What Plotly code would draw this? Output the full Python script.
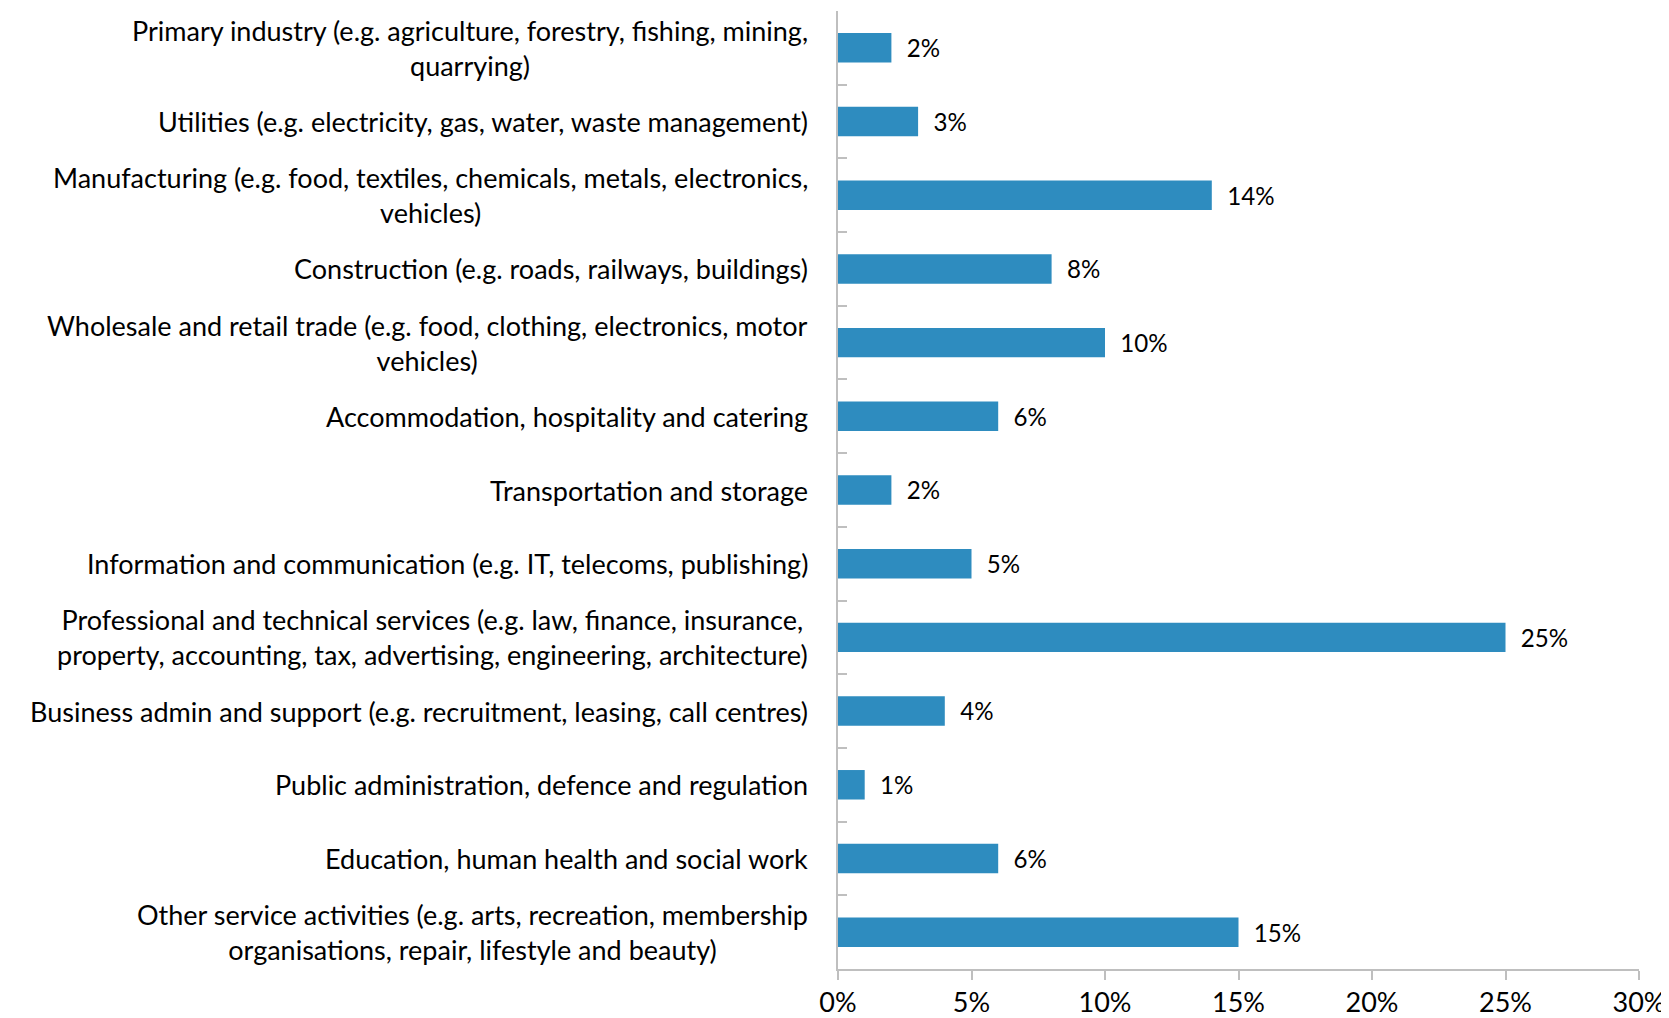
import plotly.graph_objects as go

# ---------------------------------------------------------------------------
# Data
# ---------------------------------------------------------------------------
SECTORS = [
    "Primary industry (e.g. agriculture, forestry, fishing, mining,<br>quarrying)",
    "Utilities (e.g. electricity, gas, water, waste management)",
    "Manufacturing (e.g. food, textiles, chemicals, metals, electronics,<br>vehicles)",
    "Construction (e.g. roads, railways, buildings)",
    "Wholesale and retail trade (e.g. food, clothing, electronics, motor<br>vehicles)",
    "Accommodation, hospitality and catering",
    "Transportation and storage",
    "Information and communication (e.g. IT, telecoms, publishing)",
    "Professional and technical services (e.g. law, finance, insurance,<br>property, accounting, tax, advertising, engineering, architecture)",
    "Business admin and support (e.g. recruitment, leasing, call centres)",
    "Public administration, defence and regulation",
    "Education, human health and social work",
    "Other service activities (e.g. arts, recreation, membership<br>organisations, repair, lifestyle and beauty)",
]
SHARES = [2, 3, 14, 8, 10, 6, 2, 5, 25, 4, 1, 6, 15]
X_TICKS = [0, 5, 10, 15, 20, 25, 30]
X_TICK_LABELS = ["0%", "5%", "10%", "15%", "20%", "25%", "30%"]

BAR = "#2E8CBF"
AXIS = "#BFBFBF"
FONT = "Lato, Open Sans, Arial"
FS = 27

fig = go.Figure()
fig.add_trace(go.Bar(
    x=SHARES, y=SECTORS, orientation="h",
    marker_color=BAR, marker_line_width=0,
    text=[f"  {v}%" for v in SHARES],
    textposition="outside", cliponaxis=False,
    textfont=dict(size=FS, color="black", family=FONT),
    showlegend=False,
))

# category labels as annotations so wrapped lines stay centred
for name in SECTORS:
    fig.add_annotation(
        x=0, xref="paper", y=name, yref="y", text=name,
        xanchor="right", align="center", showarrow=False, xshift=-28,
        font=dict(size=FS, color="black", family=FONT),
    )

# page body adds an 8px offset, so the figure is 8px smaller each way
fig.update_layout(
    width=1661, height=1010,
    plot_bgcolor="white", paper_bgcolor="white",
    margin=dict(l=830, r=30, t=3, b=49),
    bargap=0.6,
    font=dict(family=FONT, size=FS, color="black"),
)
fig.update_xaxes(
    range=[0, 30], tickvals=X_TICKS, ticktext=X_TICK_LABELS, automargin=False,
    showgrid=False, zeroline=False, showline=True, linecolor=AXIS, linewidth=1.5,
    ticks="outside", ticklen=9, tickcolor=AXIS, tickwidth=1.5,
    tickfont=dict(size=FS, color="black", family=FONT),
)
fig.update_yaxes(
    type="category", autorange="reversed", showticklabels=False,
    tickson="boundaries", automargin=False,
    showgrid=False, zeroline=False, showline=True, linecolor=AXIS, linewidth=1.5,
    ticks="inside", ticklen=9, tickcolor=AXIS, tickwidth=1.5,
)

fig.write_html("out.html")
